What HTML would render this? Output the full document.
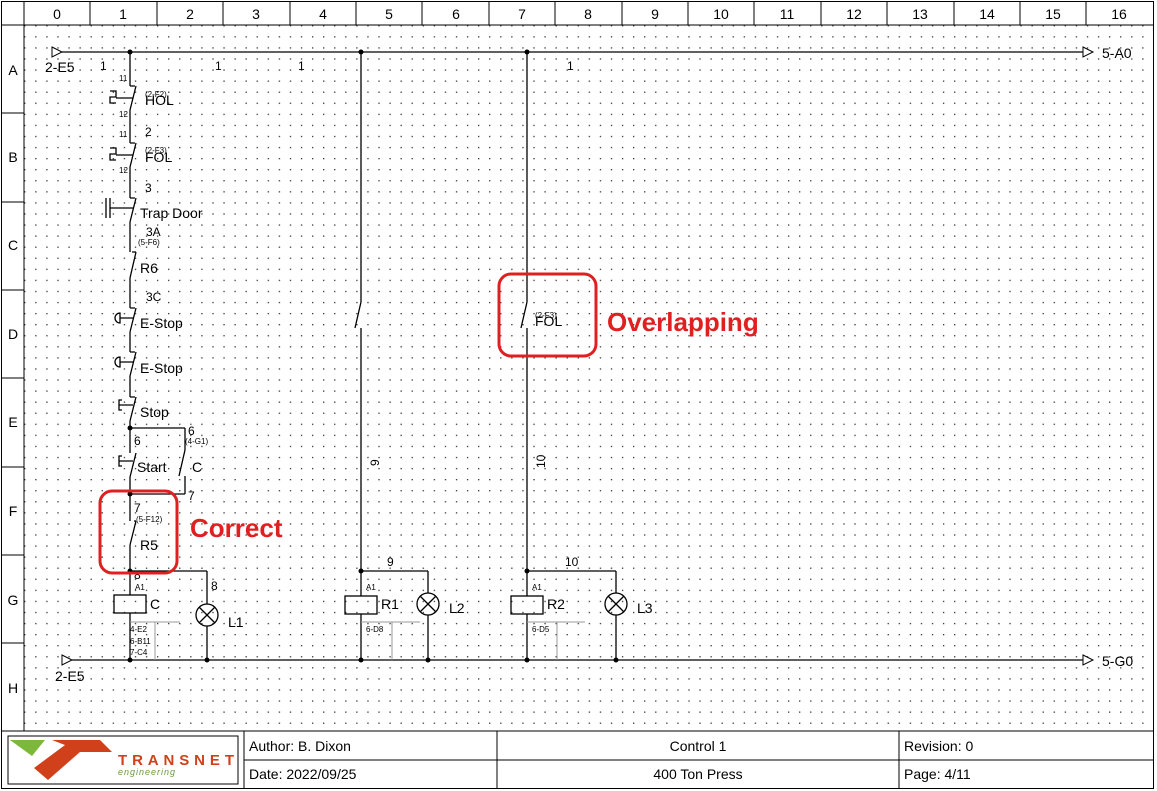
<!DOCTYPE html>
<html><head><meta charset="utf-8"><style>
body{margin:0;background:#fff}
svg{display:block;font-family:"Liberation Sans",sans-serif}
</style></head><body>
<svg width="1157" height="791" viewBox="0 0 1157 791" xmlns="http://www.w3.org/2000/svg">
<defs>
<pattern id="dots" x="2" y="3" width="11.07" height="11.07" patternUnits="userSpaceOnUse"><rect x="0" y="0" width="1.3" height="1.3" fill="#333"/></pattern>
</defs>
<rect width="1157" height="791" fill="#fff"/>
<rect x="24" y="25" width="1129" height="706" fill="url(#dots)"/>
<g stroke="#000" stroke-width="1" fill="none">
<rect x="1.5" y="1.5" width="1152" height="787"/>
<line x1="1" y1="25" x2="1154" y2="25"/>
<line x1="24" y1="1" x2="24" y2="731"/>
<line x1="1" y1="731" x2="1154" y2="731"/>
<line x1="90" y1="1" x2="90" y2="25"/><line x1="157" y1="1" x2="157" y2="25"/><line x1="223" y1="1" x2="223" y2="25"/><line x1="290" y1="1" x2="290" y2="25"/><line x1="356" y1="1" x2="356" y2="25"/><line x1="422" y1="1" x2="422" y2="25"/><line x1="489" y1="1" x2="489" y2="25"/><line x1="555" y1="1" x2="555" y2="25"/><line x1="622" y1="1" x2="622" y2="25"/><line x1="688" y1="1" x2="688" y2="25"/><line x1="754" y1="1" x2="754" y2="25"/><line x1="821" y1="1" x2="821" y2="25"/><line x1="887" y1="1" x2="887" y2="25"/><line x1="954" y1="1" x2="954" y2="25"/><line x1="1020" y1="1" x2="1020" y2="25"/><line x1="1086" y1="1" x2="1086" y2="25"/>
<line x1="1" y1="113" x2="24" y2="113"/><line x1="1" y1="202" x2="24" y2="202"/><line x1="1" y1="290" x2="24" y2="290"/><line x1="1" y1="378" x2="24" y2="378"/><line x1="1" y1="467" x2="24" y2="467"/><line x1="1" y1="555" x2="24" y2="555"/><line x1="1" y1="643" x2="24" y2="643"/>
</g>
<g font-size="14" text-anchor="middle" fill="#000">
<text x="57" y="19">0</text><text x="123" y="19">1</text><text x="190" y="19">2</text><text x="256" y="19">3</text><text x="323" y="19">4</text><text x="389" y="19">5</text><text x="456" y="19">6</text><text x="522" y="19">7</text><text x="588" y="19">8</text><text x="655" y="19">9</text><text x="721" y="19">10</text><text x="787" y="19">11</text><text x="854" y="19">12</text><text x="920" y="19">13</text><text x="987" y="19">14</text><text x="1053" y="19">15</text><text x="1119" y="19">16</text>
<text x="13" y="75">A</text><text x="13" y="162">B</text><text x="13" y="250">C</text><text x="13" y="339">D</text><text x="13" y="427">E</text><text x="13" y="516">F</text><text x="13" y="605">G</text><text x="13" y="693">H</text>
</g>
<g stroke="#000" stroke-width="1.3" fill="none">
<line x1="62" y1="52" x2="1083" y2="52"/>
<line x1="72" y1="660" x2="1083" y2="660"/>
<polygon points="52,47 62,52 52,57" stroke-width="1"/>
<polygon points="62,655 72,660 62,665" stroke-width="1"/>
<polygon points="1083,47 1093,52 1083,57" stroke-width="1"/>
<polygon points="1083,655 1093,660 1083,665" stroke-width="1"/>
<line x1="130" y1="52" x2="130" y2="86"/><line x1="130" y1="110" x2="130" y2="143"/><line x1="130" y1="167" x2="130" y2="198"/><line x1="130" y1="222" x2="130" y2="252"/><line x1="130" y1="278" x2="130" y2="308"/><line x1="130" y1="332" x2="130" y2="352"/><line x1="130" y1="376" x2="130" y2="397"/><line x1="130" y1="421" x2="130" y2="453"/><line x1="130" y1="477" x2="130" y2="521"/><line x1="130" y1="545" x2="130" y2="595"/><line x1="130" y1="613" x2="130" y2="660"/>
<path d="M130,86 h5 M136,86 L130,110 M130,143 h5 M136,143 L130,167 M130,198 h5 M136,198 L130,222 M132,252 L136,252 M136,252 L130,278 M130,308 h5 M136,308 L130,332 M130,352 h5 M136,352 L130,376 M130,397 h5 M136,397 L130,421 M136,453 L130,477 M134,521 L136,521 M136,521 L130,545"/>
<path d="M110,91 h6 v6 h-6 v6 h6 M116,98 h17"/>
<path d="M110,148 h6 v6 h-6 v6 h6 M116,155 h17"/>
<path d="M106,198 v20 M110,198 v20 M110,208 h23"/>
<path d="M120,313 a5,5 0 0 0 0,10 z M120,318 h13"/>
<path d="M120,357 a5,5 0 0 0 0,10 z M120,362 h13"/>
<path d="M122,400 h-3 v10 h3 M119,405 h14"/>
<path d="M122,456 h-3 v10 h3 M119,461 h14"/>
<line x1="130" y1="428" x2="185" y2="428"/><line x1="185" y1="428" x2="185" y2="450"/><path d="M185,450 L179,476"/><line x1="185" y1="476" x2="185" y2="494"/><line x1="130" y1="494" x2="185" y2="494"/>
<rect x="114" y="595" width="32" height="18"/>
<line x1="130" y1="571" x2="207" y2="571"/><line x1="207" y1="571" x2="207" y2="604"/><circle cx="207" cy="615" r="11"/><path d="M199,607 L215,623 M215,607 L199,623"/><line x1="207" y1="626" x2="207" y2="660"/>
<line x1="361" y1="52" x2="361" y2="302"/><path d="M361,302 L355,328"/><line x1="361" y1="328" x2="361" y2="596"/>
<rect x="345" y="596" width="32" height="18"/><line x1="361" y1="614" x2="361" y2="660"/>
<line x1="361" y1="571" x2="428" y2="571"/><line x1="428" y1="571" x2="428" y2="593"/><circle cx="428" cy="604" r="11"/><path d="M420,596 L436,612 M436,596 L420,612"/><line x1="428" y1="615" x2="428" y2="660"/>
<line x1="527" y1="52" x2="527" y2="302"/><path d="M527,302 L521,328"/><line x1="527" y1="328" x2="527" y2="596"/>
<rect x="511" y="596" width="32" height="18"/><line x1="527" y1="614" x2="527" y2="660"/>
<line x1="527" y1="571" x2="616" y2="571"/><line x1="616" y1="571" x2="616" y2="593"/><circle cx="616" cy="604" r="11"/><path d="M608,596 L624,612 M624,596 L608,612"/><line x1="616" y1="615" x2="616" y2="660"/>
</g>
<g stroke="#999" stroke-width="1" fill="none">
<line x1="130" y1="622" x2="180" y2="622"/><line x1="155" y1="622" x2="155" y2="660"/>
<line x1="361" y1="622" x2="420" y2="622"/><line x1="392" y1="622" x2="392" y2="660"/>
<line x1="527" y1="622" x2="585" y2="622"/><line x1="557" y1="622" x2="557" y2="660"/>
</g>
<g fill="#000">
<circle cx="130" cy="52" r="2.5"/><circle cx="361" cy="52" r="2.5"/><circle cx="527" cy="52" r="2.5"/>
<circle cx="130" cy="428" r="2.5"/><circle cx="130" cy="494" r="2.5"/><circle cx="130" cy="571" r="2.5"/><circle cx="361" cy="571" r="2.5"/><circle cx="527" cy="571" r="2.5"/>
<circle cx="130" cy="660" r="2.5"/><circle cx="207" cy="660" r="2.5"/><circle cx="361" cy="660" r="2.5"/><circle cx="428" cy="660" r="2.5"/><circle cx="527" cy="660" r="2.5"/><circle cx="616" cy="660" r="2.5"/>
</g>
<g font-size="14" fill="#000">
<text x="45" y="72">2-E5</text><text x="55" y="681">2-E5</text>
<text x="1102" y="58">5-A0</text><text x="1102" y="666">5-G0</text>
<text x="145" y="105">HOL</text><text x="145" y="162">FOL</text><text x="140" y="218">Trap Door</text>
<text x="140" y="273">R6</text><text x="140" y="328">E-Stop</text><text x="140" y="373">E-Stop</text><text x="140" y="417">Stop</text>
<text x="137" y="472">Start</text><text x="192" y="472">C</text><text x="140" y="550">R5</text>
<text x="150" y="609">C</text><text x="228" y="627">L1</text>
<text x="381" y="609">R1</text><text x="449" y="613">L2</text>
<text x="547" y="609">R2</text><text x="637" y="613">L3</text>
<text x="535" y="326">FOL</text>
</g>
<g font-size="12" fill="#000">
<text x="100" y="70">1</text><text x="215" y="70">1</text><text x="298" y="70">1</text><text x="567" y="70">1</text>
<text x="145" y="136">2</text><text x="145" y="192">3</text><text x="146" y="236">3A</text><text x="146" y="301">3C</text>
<text x="134" y="445">6</text><text x="188" y="435">6</text><text x="188" y="500">7</text><text x="134" y="512">7</text>
<text x="134" y="579">8</text><text x="211" y="590">8</text><text x="387" y="566">9</text><text x="565" y="566">10</text>
<text transform="translate(379,466) rotate(-90)">9</text>
<text transform="translate(545,468) rotate(-90)">10</text>
</g>
<g font-size="8" fill="#000">
<text x="119" y="81">11</text><text x="119" y="117">12</text><text x="119" y="137">11</text><text x="119" y="173">12</text>
<text x="138" y="245">(5-F6)</text><text x="185" y="444">(4-G1)</text><text x="136" y="522">(5-F12)</text>
<text x="135" y="590">A1</text><text x="366" y="590">A1</text><text x="532" y="590">A1</text>
<text x="130" y="632">4-E2</text><text x="130" y="644">6-B11</text><text x="130" y="655">7-C4</text>
<text x="366" y="632">6-D8</text><text x="532" y="632">6-D5</text>
<text x="145" y="97">(2-F2)</text><text x="145" y="153">(2-F3)</text><text x="535" y="318">(2-F3)</text>
</g>
<g fill="none" stroke="#e02020" stroke-width="3">
<rect x="100" y="491" width="77" height="82" rx="12"/>
<rect x="499" y="274" width="97" height="82" rx="12"/>
</g>
<g font-size="26" font-weight="bold" fill="#e02020">
<text x="190" y="537">Correct</text><text x="607" y="331">Overlapping</text>
</g>
<g stroke="#000" fill="none">
<rect x="8" y="736" width="230" height="48"/>
<line x1="244" y1="731" x2="244" y2="789"/><line x1="497" y1="731" x2="497" y2="789"/><line x1="899" y1="731" x2="899" y2="789"/>
<line x1="244" y1="760" x2="1154" y2="760"/>
</g>
<polygon points="10,740 45,740 32,756" fill="#7cb83a"/>
<polygon points="52,740 100,740 112,752 80,752 48,780 34,768 65,745" fill="#d0401a"/>
<text x="118" y="765" font-size="15" font-weight="bold" fill="#d0401a" textLength="116" lengthAdjust="spacing">TRANSNET</text>
<text x="118" y="775" font-size="9" font-style="italic" fill="#6a9a3a" letter-spacing="1">engineering</text>
<g font-size="14" fill="#000">
<text x="249" y="751">Author: B. Dixon</text><text x="249" y="779">Date: 2022/09/25</text>
<text x="698" y="751" text-anchor="middle">Control 1</text><text x="698" y="779" text-anchor="middle">400 Ton Press</text>
<text x="904" y="751">Revision: 0</text><text x="904" y="779">Page: 4/11</text>
</g>
</svg>
</body></html>
